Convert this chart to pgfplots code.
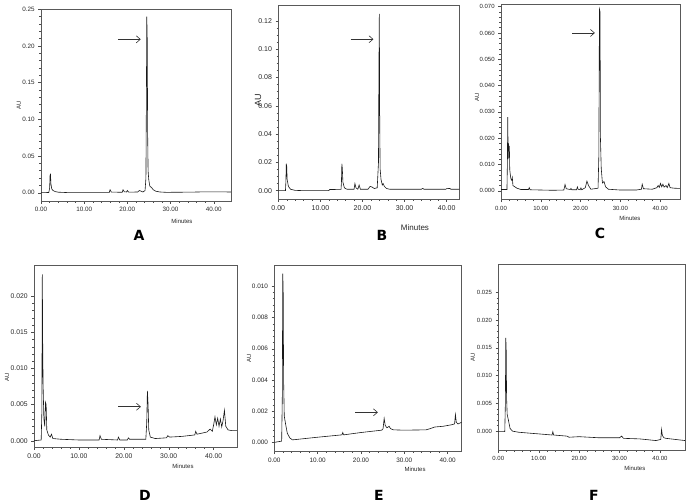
\documentclass[border=0pt]{standalone}
\usepackage{pgfplots}
\pgfplotsset{compat=1.18}
\usetikzlibrary{arrows.meta}
\usepackage{fontspec}
\setmainfont{Liberation Sans}
\newfontfamily\letterfont{DejaVu Sans}
\pgfplotsset{
  chrom/.style={
    scale only axis,
    axis line style={black!65, line width=0.5pt},
    tick style={black!70, line width=0.4pt},
    tick align=outside,
    major tick length=2.8pt,
    minor tick length=1.6pt,
    xtick pos=lower, ytick pos=left,
    minor x tick num=4, minor y tick num=4,
    scaled ticks=false,
    xmin=0,
    xtick={0,10,20,30,40},
    xticklabel style={/pgf/number format/.cd, fixed, fixed zerofill, precision=2},
    /pgf/number format/assume math mode=true,
    every tick label/.append style={text=black!85},
    xlabel={Minutes}, ylabel={AU},
    every axis label/.append style={text=black!85},
    ylabel style={anchor=center},
    xlabel style={anchor=center},
  },
  trace/.style={black!90, line width=0.6pt, mark=none},
}
\tikzset{pk/.style={-{Straight Barb[length=4pt,width=7pt,line width=0.6pt]}, black!80, line width=0.6pt},
  lett/.style={font=\letterfont\bfseries\fontsize{14}{14}\selectfont}}
\begin{document}
\begin{tikzpicture}
\path[use as bounding box] (0pt,0pt) rectangle (689pt,-503pt);

% ---------------- A ----------------
\begin{axis}[chrom, at={(41pt,-201pt)}, anchor=south west,
  width=190pt, height=192pt, xmax=44, ymin=-0.0113, ymax=0.2503,
  ytick={0,0.05,0.10,0.15,0.20,0.25},
  yticklabel style={/pgf/number format/.cd, fixed, fixed zerofill, precision=2},
  tick label style={font=\fontsize{6.3}{7}\selectfont},
  label style={font=\fontsize{6}{7}\selectfont},
  ylabel style={at={(rel axis cs:-0.116,0.5)}},
  xlabel style={at={(rel axis cs:0.742,-0.104)}}]
\addplot[trace] coordinates {
(0,0) (1.8,0.0003) (2.0,0.006) (2.1,0.024) (2.2,0.025) (2.3,0.012) (2.5,0.005)
(2.8,0.003) (3.3,0.0015) (4.0,0.0007) (6,0.0002) (10,0.0001) (15.8,0.0002)
(16.0,0.004) (16.3,0.0008) (18.8,0.0006) (19.0,0.004) (19.3,0.0012) (19.8,0.001)
(20.0,0.003) (20.3,0.0007) (22.4,0.001) (22.8,0.003) (23.2,0.002) (23.6,0.001)
(24.1,0.003) (24.3,0.02) (24.4,0.12) (24.5,0.24) (24.6,0.21) (24.7,0.08)
(24.8,0.03) (24.95,0.018) (25.2,0.009) (25.6,0.007) (26.0,0.004) (26.6,0.002)
(27.5,0.001) (29,0.0005) (35,0.0008) (38,0.0012) (44,0.001)};
\draw[pk] (axis cs:17.8,0.209) -- (axis cs:23.1,0.209);
\end{axis}

% ---------------- B ----------------
\begin{axis}[chrom, at={(278.3pt,-199pt)}, anchor=south west,
  width=181pt, height=194pt, xmax=43, ymin=-0.0059, ymax=0.1312,
  ytick={0,0.02,0.04,0.06,0.08,0.10,0.12}, minor y tick num=3,
  yticklabel style={/pgf/number format/.cd, fixed, fixed zerofill, precision=2},
  tick label style={font=\fontsize{7}{8}\selectfont},
  xlabel style={font=\fontsize{8}{9}\selectfont, at={(rel axis cs:0.755,-0.149)}},
  ylabel style={font=\fontsize{9}{10}\selectfont, at={(rel axis cs:-0.112,0.51)}}]
\addplot[trace] coordinates {
(0,0) (1.7,0) (1.8,0.006) (1.9,0.019) (2.0,0.017) (2.1,0.008) (2.4,0.003)
(2.9,0.001) (4,0.0002) (6,0) (12,0) (12.2,0.0008) (14.9,0.0009) (15.0,0.006)
(15.1,0.019) (15.2,0.016) (15.35,0.006) (15.7,0.002) (16.3,0.001) (18.0,0.001)
(18.2,0.005) (18.45,0.002) (18.9,0.001) (19.2,0.004) (19.5,0.001) (21.3,0.001)
(21.8,0.003) (22.3,0.0025) (22.8,0.0015) (23.5,0.002) (23.8,0.02) (23.9,0.084)
(24.0,0.125) (24.1,0.044) (24.2,0.015) (24.4,0.008) (24.7,0.004) (24.9,0.005)
(25.2,0.003) (25.7,0.0015) (26.5,0.001) (34,0.001) (34.3,0.0016) (34.6,0.001)
(39.8,0.001) (40.1,0.0016) (40.8,0.0015) (41,0.001) (43,0.001)};
\draw[pk] (axis cs:17.2,0.107) -- (axis cs:22.6,0.107);
\end{axis}

% ---------------- C ----------------
\begin{axis}[chrom, at={(501pt,-199.5pt)}, anchor=south west,
  width=179pt, height=195.5pt, xmax=45, ymin=-0.0033, ymax=0.071,
  ytick={0,0.01,0.02,0.03,0.04,0.05,0.06,0.07},
  yticklabel style={/pgf/number format/.cd, fixed, fixed zerofill, precision=3},
  tick label style={font=\fontsize{6}{7}\selectfont},
  label style={font=\fontsize{6}{7}\selectfont},
  ylabel style={at={(rel axis cs:-0.134,0.524)}},
  xlabel style={at={(rel axis cs:0.72,-0.095)}}]
\addplot[trace] coordinates {
(0,0.0005) (1.5,0.0005) (1.6,0.01) (1.7,0.028) (1.8,0.012) (1.9,0.018) (2.0,0.016)
(2.1,0.017) (2.2,0.008) (2.35,0.006) (2.5,0.0045) (2.7,0.004) (2.85,0.005)
(3.0,0.002) (3.5,0.0015) (4,0.001) (5,0.0005) (6.9,0.0005) (7.1,0.0012)
(7.3,0.0004) (13,0.0002) (15.8,0.0003) (16.1,0.0024) (16.4,0.0008) (17.4,0.0005)
(17.6,0.0009) (17.8,0.0004) (19.0,0.0004) (19.2,0.0015) (19.4,0.0006)
(19.9,0.0004) (20.1,0.0011) (20.3,0.0004) (21.2,0.0012) (21.6,0.0037)
(22.0,0.002) (22.6,0.0006) (24.4,0.001) (24.6,0.0135) (24.75,0.069) (24.9,0.068)
(25.0,0.02) (25.2,0.0085) (25.5,0.003) (25.9,0.0035) (26.3,0.0015) (27,0.0006)
(30,0.0003) (34,0.0003) (35.3,0.0006) (35.5,0.0025) (35.8,0.0008) (38,0.0006)
(39.2,0.0012) (39.5,0.002) (39.8,0.0013) (40.1,0.0028) (40.4,0.0015)
(40.7,0.0025) (41.0,0.0014) (41.5,0.002) (41.8,0.0012) (42.2,0.0028)
(42.5,0.0012) (43.5,0.001) (45,0.0009)};
\draw[pk] (axis cs:17.9,0.060) -- (axis cs:23.6,0.060);
\end{axis}

% ---------------- D ----------------
\begin{axis}[chrom, at={(34pt,-447pt)}, anchor=south west,
  width=203pt, height=182pt, xmax=45.2, ymin=-0.00087, ymax=0.0243,
  ytick={0,0.005,0.010,0.015,0.020},
  yticklabel style={/pgf/number format/.cd, fixed, fixed zerofill, precision=3},
  tick label style={font=\fontsize{6.8}{8}\selectfont},
  label style={font=\fontsize{6}{7}\selectfont},
  ylabel style={at={(rel axis cs:-0.133,0.385)}},
  xlabel style={at={(rel axis cs:0.734,-0.104)}}]
\addplot[trace] coordinates {
(0,0) (1.6,0.0001) (1.75,0.004) (1.85,0.023) (1.95,0.012) (2.05,0.007)
(2.2,0.003) (2.4,0.002) (2.55,0.0053) (2.7,0.005) (2.85,0.0015) (3.2,0.0008)
(3.6,0.0005) (3.9,0.0009) (4.2,0.0003) (6,0.0002) (10,0.0001) (14.5,0.0001)
(14.7,0.0007) (15.0,0.0002) (18.6,0.0001) (18.8,0.0005) (19.1,0.0001)
(20.8,0.0001) (21.0,0.0004) (21.3,0.0002) (24.9,0.0002) (25.1,0.0025)
(25.25,0.0069) (25.4,0.005) (25.55,0.0015) (25.9,0.0005) (27,0.0003)
(29.5,0.0004) (29.8,0.0007) (30.2,0.0005) (33,0.0006) (35.8,0.0008)
(36.0,0.0013) (36.3,0.0009) (38.5,0.0012) (39.2,0.0016) (39.7,0.0013)
(40.0,0.0022) (40.3,0.0033) (40.6,0.0022) (40.9,0.0031) (41.2,0.002)
(41.5,0.003) (41.8,0.0019) (42.1,0.0028) (42.4,0.0042) (42.7,0.002)
(43.2,0.0015) (44,0.0014) (45.2,0.0014)};
\draw[pk] (axis cs:18.8,0.0047) -- (axis cs:23.8,0.0047);
\end{axis}

% ---------------- E ----------------
\begin{axis}[chrom, at={(274.3pt,-451.3pt)}, anchor=south west,
  width=187.2pt, height=186.3pt, xmax=43.2, ymin=-0.00055, ymax=0.01135,
  ytick={0,0.002,0.004,0.006,0.008,0.010},
  yticklabel style={/pgf/number format/.cd, fixed, fixed zerofill, precision=3},
  tick label style={font=\fontsize{6.4}{7}\selectfont},
  label style={font=\fontsize{6}{7}\selectfont},
  ylabel style={at={(rel axis cs:-0.135,0.5)}},
  xlabel style={at={(rel axis cs:0.752,-0.095)}}]
\addplot[trace] coordinates {
(0,0.00002) (1.7,0.0001) (1.85,0.003) (1.95,0.0108) (2.05,0.0098) (2.15,0.004)
(2.3,0.0017) (2.6,0.0012) (3.0,0.0006) (3.6,0.0003) (4.2,0.00018) (10,0.00035)
(15.6,0.0005) (15.8,0.00065) (16.0,0.0005) (20,0.00065) (24.8,0.0008)
(25.1,0.0009) (25.35,0.00155) (25.6,0.0011) (26.0,0.00095) (26.5,0.00105)
(26.8,0.0009) (27.5,0.00082) (30,0.0008) (35,0.00082) (36,0.0009) (37,0.001)
(39,0.00105) (41,0.00115) (41.6,0.0012) (41.8,0.0018) (42.0,0.0013)
(42.4,0.0012) (43.2,0.0013)};
\draw[pk] (axis cs:18.7,0.00194) -- (axis cs:23.9,0.00194);
\end{axis}

% ---------------- F ----------------
\begin{axis}[chrom, at={(498.3pt,-450pt)}, anchor=south west,
  width=186.7pt, height=186pt, xmax=46.2, ymin=-0.0034, ymax=0.0301,
  ytick={0,0.005,0.010,0.015,0.020,0.025},
  yticklabel style={/pgf/number format/.cd, fixed, fixed zerofill, precision=3},
  tick label style={font=\fontsize{6}{7}\selectfont},
  label style={font=\fontsize{6}{7}\selectfont},
  ylabel style={at={(rel axis cs:-0.136,0.5)}},
  xlabel style={at={(rel axis cs:0.731,-0.097)}}]
\addplot[trace] coordinates {
(0,-0.0001) (1.6,-0.0001) (1.75,0.005) (1.85,0.0168) (1.95,0.015) (2.05,0.006)
(2.2,0.003) (2.5,0.002) (2.9,0.0005) (3.5,0.0) (5,-0.0002) (10,-0.0005)
(13.3,-0.0007) (13.5,-0.0001) (13.7,-0.0007) (17,-0.0009) (17.5,-0.0011)
(20,-0.001) (25,-0.0012) (30,-0.0012) (30.5,-0.0009) (31,-0.0013) (35,-0.0014)
(39,-0.0017) (40.2,-0.0015) (40.4,0.0003) (40.6,-0.0008) (41,-0.0012)
(41.5,-0.0013) (46.2,-0.0017)};
\end{axis}

% panel letters
\node[lett] at (139pt,-235pt) {A};
\node[lett] at (382pt,-235pt) {B};
\node[lett] at (600pt,-233pt) {C};
\node[lett] at (145pt,-495pt) {D};
\node[lett] at (379pt,-495pt) {E};
\node[lett] at (594pt,-495pt) {F};
\end{tikzpicture}
\end{document}
